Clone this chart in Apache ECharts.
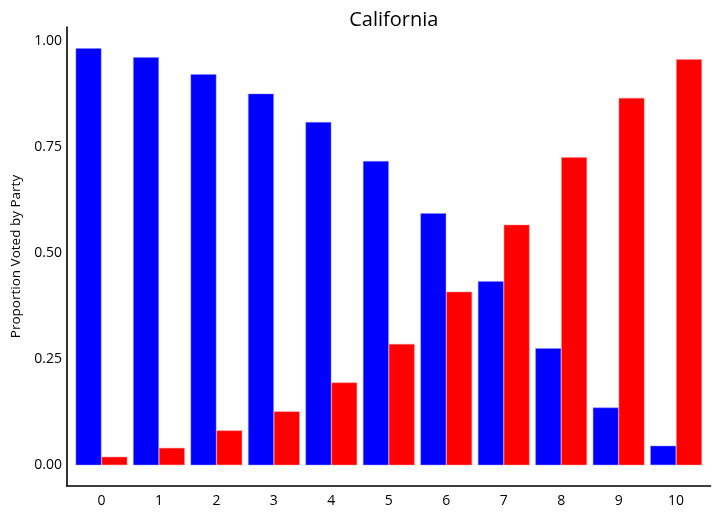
<!DOCTYPE html>
<html>
<head>
<meta charset="utf-8">
<script src="https://cdn.jsdelivr.net/npm/echarts@6/dist/echarts.min.js"></script>
<style>html,body{margin:0;padding:0;background:#fff}#c{width:720px;height:515px}</style>
</head>
<body>
<div id="c"></div>
<script>
var categories = [0, 1, 2, 3, 4, 5, 6, 7, 8, 9, 10];
var blueValues = [0.983, 0.962, 0.922, 0.876, 0.809, 0.717, 0.594, 0.434, 0.276, 0.136, 0.046];
var redValues  = [0.020, 0.041, 0.082, 0.127, 0.195, 0.286, 0.409, 0.567, 0.726, 0.866, 0.957];
var yTicks = [0, 0.25, 0.5, 0.75, 1.0];

var chart = echarts.init(document.getElementById('c'), null, {renderer: 'canvas'});
var font = '"Open Sans", sans-serif';
function pairs(vals) { return categories.map(function (c, i) { return [c, vals[i]]; }); }
chart.setOption({
  animation: false,
  backgroundColor: '#ffffff',
  title: {
    text: 'California',
    left: 388.8, top: 5, textAlign: 'center',
    textStyle: {fontFamily: font, fontSize: 20, fontWeight: 'normal', color: '#000'}
  },
  grid: {left: 67, right: 9.4, top: 27, bottom: 29, containLabel: false},
  xAxis: {
    type: 'value', min: -0.6, max: 10.6,
    axisLine: {show: true, onZero: false, lineStyle: {color: '#000', width: 1.6}},
    axisTick: {show: false},
    splitLine: {show: false},
    axisLabel: {customValues: categories, margin: 8, fontFamily: font, fontSize: 14, color: '#000'}
  },
  yAxis: {
    type: 'value', min: -0.049, max: 1.033,
    name: 'Proportion Voted by Party', nameLocation: 'middle', nameGap: 43,
    nameTextStyle: {fontFamily: font, fontSize: 13.5, color: '#000'},
    axisLine: {show: true, onZero: false, lineStyle: {color: '#000', width: 1.6}},
    axisTick: {show: false},
    splitLine: {show: false},
    axisLabel: {customValues: yTicks, margin: 5, fontFamily: font, fontSize: 14, color: '#000',
      formatter: function (v) { return Number(v).toFixed(2); }}
  },
  series: [
    {type: 'bar', data: pairs(blueValues), barWidth: 25.86, barGap: '0%',
     itemStyle: {color: '#0000ff', borderColor: 'rgba(140,140,255,0.8)', borderWidth: 0.6}},
    {type: 'bar', data: pairs(redValues), barWidth: 25.86, barGap: '0%',
     itemStyle: {color: '#ff0000', borderColor: 'rgba(255,140,140,0.8)', borderWidth: 0.6}}
  ]
});
</script>
</body>
</html>
